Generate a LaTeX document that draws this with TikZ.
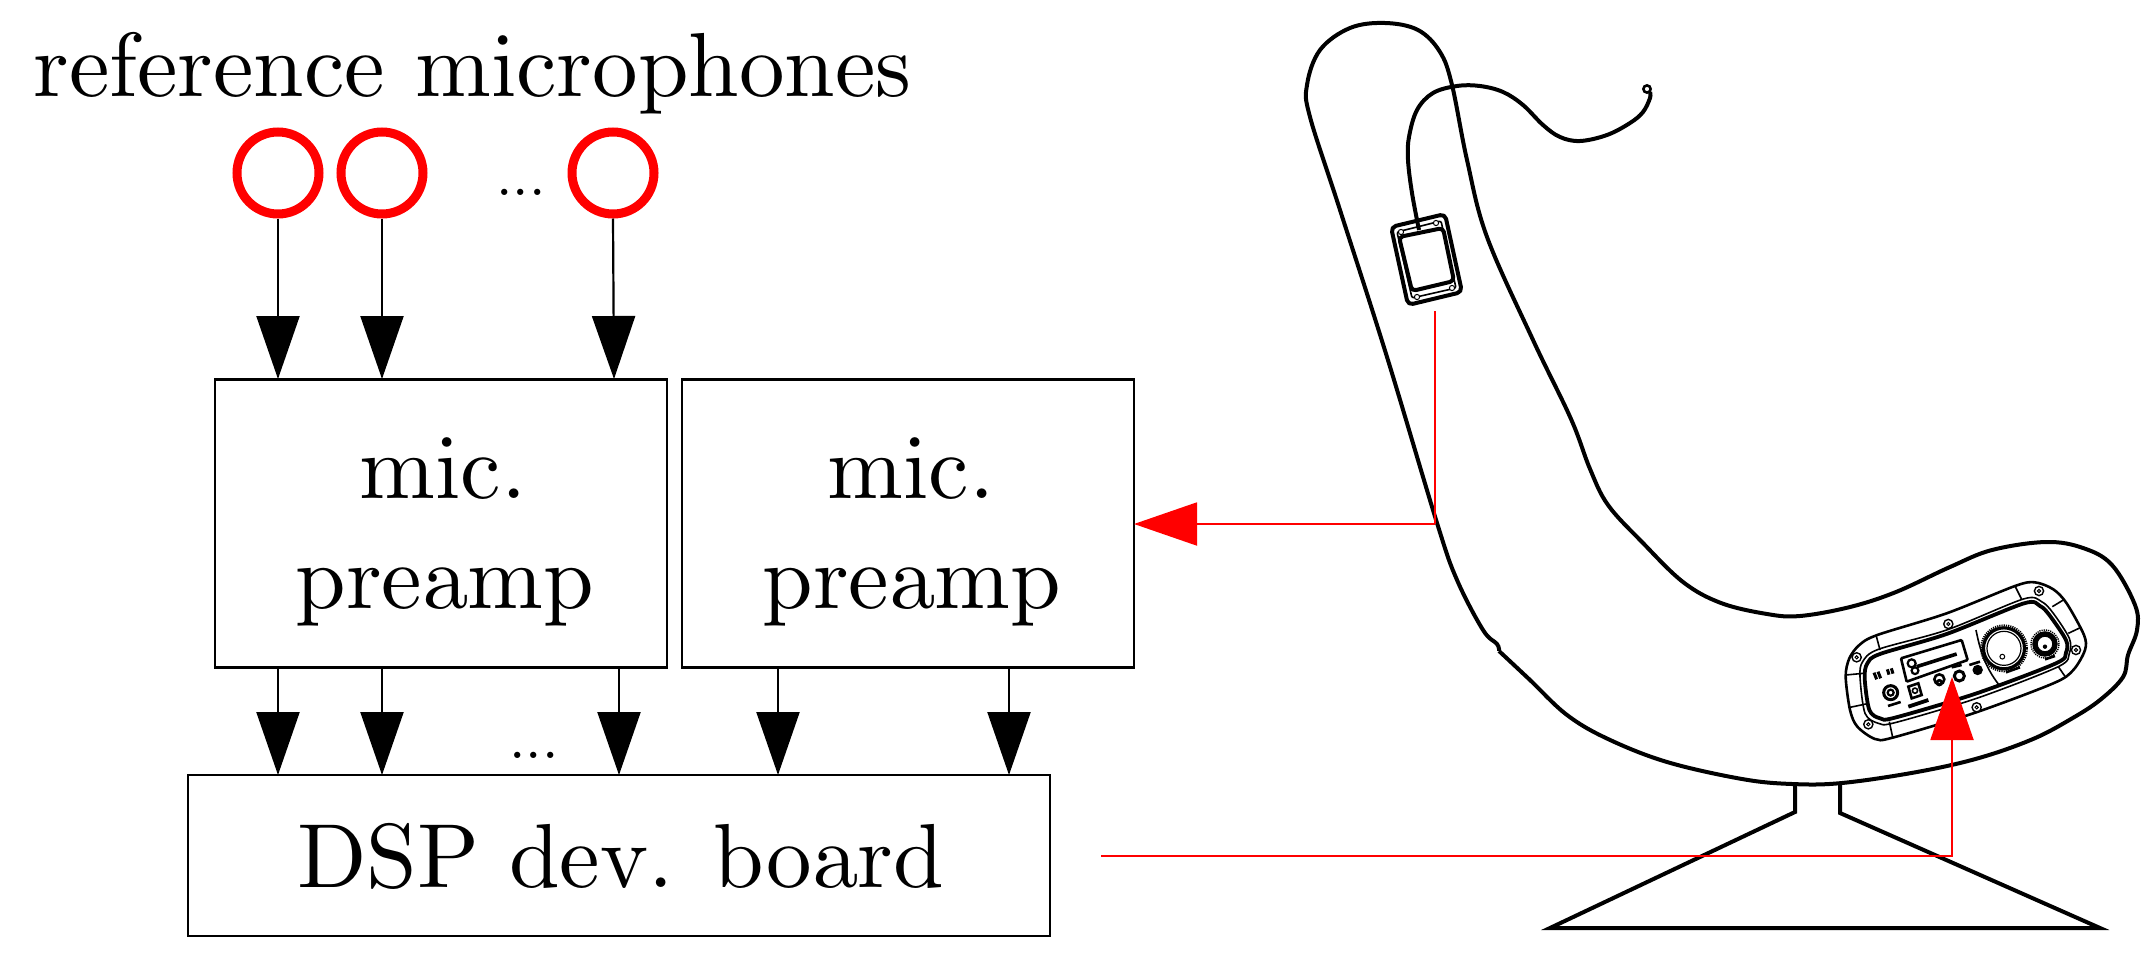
\documentclass[tikz,border=0pt]{standalone}
\usetikzlibrary{arrows.meta}
\font\cmbig=cmr10 at 91pt
\font\cmdots=cmr10 at 59pt
\tikzset{
  boxnode/.style={draw=black,line width=2.4pt,inner sep=0pt,outer sep=0pt},
  micnode/.style={circle,draw=red,line width=9pt,minimum size=82pt,inner sep=0pt,outer sep=4.5pt},
  txt/.style={anchor=base,inner sep=0pt,font=\cmbig},
  dotstxt/.style={anchor=base,inner sep=0pt,font=\cmdots},
  blackarrow/.style={line width=2.2pt,-{Triangle[length=63pt,width=43pt]}},
  redline/.style={draw=red,line width=1.9pt},
  redarrow/.style={redline,-{Triangle[length=63pt,width=43pt,fill=red]}},
  chair/.style={line width=4pt,line join=round},
  thinp/.style={line width=1.6pt},
  midp/.style={line width=2.6pt},
  thickp/.style={line width=3.8pt},
}
\begin{document}
\begin{tikzpicture}[x=1pt,y=-1pt]
\useasboundingbox (0,0) rectangle (2153,964);
% text
\node[txt] (title) at (473,96) {reference microphones};
% microphones
\node[micnode] (ma) at (278,173) {};
\node[micnode] (mb) at (382,173) {};
\node[micnode] (mc) at (613,173) {};
\node[dotstxt] (dotsa) at (521,195) {...};
% boxes
\node[boxnode,minimum width=452pt,minimum height=288pt] (pa) at (441,523.5) {};
\node[boxnode,minimum width=452pt,minimum height=288pt] (pb) at (908,523.5) {};
\node[boxnode,minimum width=862pt,minimum height=161pt] (dsp) at (619,855.5) {};
\node[txt] (pat1) at (443,498) {mic.};
\node[txt] (pat2) at (445,608) {preamp};
\node[txt] (pbt1) at (911,498) {mic.};
\node[txt] (pbt2) at (912,608) {preamp};
\node[txt] (dsptxt) at (621,887) {DSP dev. board};
\node[dotstxt] (dotsb) at (534,758) {...};
% arrows mic -> preamp
\coordinate (ia) at (278,379);
\coordinate (ib) at (382,379);
\coordinate (ic) at (614,379);
\draw[blackarrow] (ma.south) -- (ia);
\draw[blackarrow] (mb.south) -- (ib);
\draw[blackarrow] (mc.south) -- (ic);
% arrows preamp -> dsp
\foreach \n/\x in {a/278,b/382,c/619,d/778,e/1009}{
  \coordinate (s\n) at (\x,667);
  \coordinate (t\n) at (\x,775);
  \draw[blackarrow] (s\n) -- (t\n);
}
% chair outline
\draw[chair] plot[smooth,tension=0.6] coordinates {
 (1499,651) (1497,644) (1483,630) (1457,580) (1437,523) (1387,357) (1340,210) (1310,117)
 (1307,85) (1320,50) (1350,28) (1385,23) (1418,30) (1440,52) (1452,85) (1467,160)
 (1487,237) (1533,340) (1571,419) (1590,469) (1608,505) (1642,542) (1683,582) (1721,603) (1767,614) (1800,616)
 (1850,607) (1896,592) (1950,567) (1992,550) (2046,542) (2083,548) (2112,565) (2135,605) (2137,630) (2128,655) (2123,677)
 (2100,700) (2071,719) (2033,739) (1979,758) (1917,772) (1842,783) (1792,784) (1742,779) (1667,762) (1608,739) (1567,715) (1530,680) (1499,651)};
% base
\draw[chair,line join=miter] (1795,784) -- (1795,812) -- (1550,928) -- (2100,928) -- (1840,813) -- (1840,784);
% cable
\draw[chair] plot[smooth,tension=0.6] coordinates {
 (1419,230) (1412,193) (1408,160) (1409,137) (1417,110) (1433,93) (1457,86) (1480,86) (1503,92) (1523,105) (1543,125)
 (1560,137) (1580,141) (1607,135) (1630,123) (1643,112) (1650,98) (1650,92)};
\draw[line width=2.6pt] (1647,89) circle (3.6pt);
% remote sensor on chair back
\draw[chair,rounded corners=5pt] (1391,227) -- (1445,214) -- (1462,292) -- (1408,305) -- cycle;
\draw[thinp,rounded corners=2pt] (1397,232) -- (1441,221) -- (1456,288) -- (1412,298) -- cycle;
\draw[chair,rounded corners=4pt] (1399,237) -- (1443,228) -- (1454,281) -- (1412,291) -- cycle;
\foreach \px/\py in {1401/232,1436/223,1417/297,1452/288}{
  \draw[line width=1pt,fill=white] (\px,\py) circle (2.6pt);
}
% control panel
\begin{scope}[shift={(1800,550)},x=0.3333pt,y=-0.3333pt]
 \draw[line width=2.6pt] plot[smooth cycle,tension=0.5] coordinates {
   (137,380) (148,325) (178,285) (232,255) (440,190) (645,108) (705,97) (760,118) (800,160) (852,255) (855,300) (820,360) (760,400) (520,490) (278,563) (225,567) (172,530) (150,480)};
 \draw[thinp] plot[smooth cycle,tension=0.5] coordinates {
   (180,380) (188,335) (235,298) (440,240) (670,147) (725,155) (760,190) (808,265) (808,310) (775,350) (530,445) (285,518) (235,520) (195,490)};
 \draw[thickp] plot[smooth cycle,tension=0.5] coordinates {
   (194,385) (202,340) (240,312) (440,252) (672,160) (720,168) (748,195) (798,270) (798,308) (768,340) (530,430) (285,503) (240,505) (208,480)};
 % flange ticks
 \foreach \xa/\ya/\xb/\yb in {228/255/240/300,645/108/665/148,757/170/790/150,805/250/843/232,775/350/797/382,268/515/278/562,138/375/190/370,150/472/198/462}{
   \draw[thinp] (\xa,\ya) -- (\xb,\yb);
 }
 % screws
 \foreach \px/\py in {170/322,445/222,717/123,828/300,530/472,205/523}{
   \draw[line width=1.4pt,fill=white] (\px,\py) circle (4.6pt);
   \draw[line width=1pt] (\px,\py) circle (1.6pt);
 }
 % label plate
 \draw[midp,rounded corners=1pt] (303,325) -- (485,270) -- (503,330) -- (320,395) -- cycle;
 % logo
 \draw[line width=3.6pt] (350,350) -- (470,312);
 \draw[line width=2.2pt] (335,340) circle (4pt);
 \draw[line width=2.2pt] (345,362) circle (3.4pt);
 % FCC CE marks
 \draw[line width=3pt] (222,368) -- (230,388) (234,365) -- (242,385);
 \draw[line width=3pt] (262,358) -- (267,374) (274,355) -- (279,371);
 % jacks
 \draw[line width=3pt] (272,428) circle (7pt);
 \draw[line width=2.2pt] (272,428) circle (3pt);
 \draw[midp] (264,468) -- (302,456);
 \draw[midp] (325,410) -- (355,400) -- (365,435) -- (335,445) -- cycle;
 \draw[line width=1.6pt] (345,422) circle (2.6pt);
 \draw[thickp] (325,470) -- (385,450);
 \draw[line width=2.6pt] (418,388) circle (5pt);
 \draw[line width=2.6pt] (418,398) circle (2.4pt);
 \draw[line width=3pt] (478,378) circle (5pt);
 \draw[midp] (455,352) -- (485,345);
 \fill (533,360) circle (5.2pt);
 \draw[midp] (508,345) -- (540,335);
 % divider
 \draw[thinp] (528,240) .. controls (540,300) and (555,350) .. (595,402);
 % large knob
 \draw[line width=2pt,dash pattern=on 1.2pt off 1pt] (612,295) circle (23pt);
 \draw[line width=3.2pt] (612,295) circle (20.5pt);
 \draw[line width=1.2pt] (612,295) circle (17pt);
 \draw[line width=1pt] (607,320) circle (2.4pt);
 \draw[midp] (618,367) -- (660,352);
 % small knob
 \draw[line width=5.4pt] (735,282) circle (10pt);
 \draw[line width=1.4pt,dash pattern=on 1.2pt off 1pt] (735,282) circle (14pt);
 \fill (735,290) circle (2.2pt);
 \draw[midp] (735,328) -- (765,318);
\end{scope}
% red connectors
\coordinate (rs1) at (1435,311);
\coordinate (rc1) at (1435,524);
\coordinate (pbin) at (pb.east |- rc1);
\draw[redline] (rs1) -- (rc1);
\draw[redarrow] (rc1) -- (pbin);
\coordinate (rs2) at (1101,856);
\coordinate (rc2) at (1952,856);
\coordinate (rt2) at (1952,677);
\draw[redarrow] (rs2) -- (rc2) -- (rt2);
\end{tikzpicture}
\end{document}
